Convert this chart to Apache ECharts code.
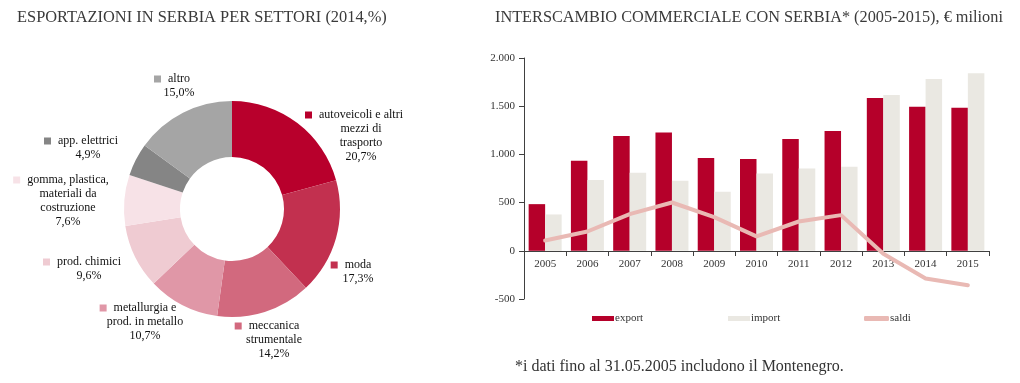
<!DOCTYPE html>
<html>
<head>
<meta charset="utf-8">
<script src="https://cdn.jsdelivr.net/npm/echarts@6/dist/echarts.min.js"></script>
<style>
html,body{margin:0;padding:0;background:#fff;}
#c{width:1020px;height:383px;}
</style>
</head>
<body>
<div id="c"></div>
<script>
// ---- data ----
const sectorNames = ['autoveicoli e altri\nmezzi di\ntrasporto', 'moda', 'meccanica\nstrumentale', 'metallurgia e\nprod. in metallo', 'prod. chimici', 'gomma, plastica,\nmateriali da\ncostruzione', 'app. elettrici', 'altro'];
const sectorShares = [20.7, 17.3, 14.2, 10.7, 9.6, 7.6, 4.9, 15.0];
const years = ['2005','2006','2007','2008','2009','2010','2011','2012','2013','2014','2015'];
const exportVals = [484, 934, 1190, 1228, 962, 952, 1159, 1242, 1585, 1495, 1484];
const importVals = [377, 734, 810, 727, 612, 803, 855, 872, 1616, 1782, 1841];
const saldiVals = [107, 200, 380, 501, 350, 149, 304, 370, -31, -287, -357];
const yTicks = [-500, 0, 500, 1000, 1500, 2000];

// ---- styling / layout ----
const sectorColors = ['#B8002C', '#C2304F', '#D2697E', '#E097A7', '#EFCBD2', '#F7E2E7', '#858585', '#A5A5A5'];
const labelPos = [[361,136],[358,272],[274,340],[145,322],[89,269],[68,201],[88,148],[179,86]];
const SERIF = '"Liberation Serif", "DejaVu Serif", serif';

function fmtThousands(v){
  const s = String(Math.abs(v)).replace(/\B(?=(\d{3})+(?!\d))/g, '.');
  return (v < 0 ? '-' : '') + s;
}
function fmtPct(v){ return v.toFixed(1).replace('.', ','); }

const richLabel = {};
sectorColors.forEach((c, i) => {
  richLabel['sq' + i] = {width: 7, height: 7, backgroundColor: c};
});
richLabel.g = {width: 7};
richLabel.p = {width: 14};

const pieData = sectorNames.map((n, i) => ({
  name: n, value: sectorShares[i],
  itemStyle: {color: sectorColors[i]}
}));

const legendText = {fontFamily: SERIF, fontSize: 11, color: '#333', padding: [0,0,0,-4]};

const chart = echarts.init(document.getElementById('c'), null, {renderer: 'canvas'});
chart.setOption({
  animation: false,
  textStyle: {fontFamily: SERIF},
  title: [
    {text: 'ESPORTAZIONI IN SERBIA PER SETTORI (2014,%)', left: 17, top: 10, padding: 0,
     textStyle: {fontFamily: SERIF, fontSize: 16.4, fontWeight: 'normal', color: '#3a3a3a'}},
    {text: 'INTERSCAMBIO COMMERCIALE CON SERBIA* (2005-2015), € milioni', left: 495, top: 10, padding: 0,
     textStyle: {fontFamily: SERIF, fontSize: 16.3, fontWeight: 'normal', color: '#3a3a3a'}},
    {text: '*i dati fino al 31.05.2005 includono il Montenegro.', left: 515, top: 359, padding: 0,
     textStyle: {fontFamily: SERIF, fontSize: 16, fontWeight: 'normal', color: '#333'}}
  ],
  legend: [
    {data: ['export'], left: 592, top: 313, padding: 0, itemWidth: 22, itemHeight: 5, icon: 'rect',
     textStyle: legendText},
    {data: ['import'], left: 728, top: 313, padding: 0, itemWidth: 22, itemHeight: 5, icon: 'rect',
     textStyle: legendText},
    {data: ['saldi'], left: 864, top: 313, padding: 0, itemWidth: 25, itemHeight: 5, icon: 'roundRect',
     textStyle: legendText}
  ],
  grid: {left: 524, right: 31, top: 58, bottom: 84, containLabel: false},
  xAxis: {
    type: 'category', data: years, position: 'bottom', offset: -48,
    axisLine: {onZero: false, lineStyle: {color: '#404040', width: 1}},
    axisTick: {show: true, length: 5, interval: 0, lineStyle: {color: '#404040'}},
    axisLabel: {fontFamily: SERIF, fontSize: 11, color: '#333', margin: 8, interval: 0}
  },
  yAxis: {
    type: 'value', min: yTicks[0], max: yTicks[yTicks.length - 1], interval: 500,
    axisLine: {show: true, lineStyle: {color: '#404040', width: 1}},
    axisTick: {show: true, length: 5, lineStyle: {color: '#404040'}},
    splitLine: {show: false},
    axisLabel: {fontFamily: SERIF, fontSize: 11, color: '#333', margin: 9, formatter: fmtThousands}
  },
  series: [
    {
      type: 'pie', name: 'settori',
      center: [232, 209], radius: [52, 108],
      startAngle: 90, clockwise: true,
      data: pieData,
      label: {
        show: true, position: 'outside', width: 140, overflow: 'none',
        fontFamily: SERIF, fontSize: 12, color: '#111', lineHeight: 14, align: 'center',
        formatter: (p) => {
          const lines = p.name.split('\n');
          lines[0] = '{sq' + p.dataIndex + '|}{g|}' + lines[0] + '{p|}';
          return lines.join('\n') + '\n' + fmtPct(p.value) + '%';
        },
        rich: richLabel
      },
      labelLine: {show: false},
      labelLayout: (params) => {
        const pos = labelPos[params.dataIndex];
        return {x: pos[0], y: pos[1], align: 'center', verticalAlign: 'middle'};
      },
      emphasis: {disabled: true}
    },
    {
      type: 'bar', name: 'export', data: exportVals,
      barWidth: 16.5, barGap: '0%',
      itemStyle: {color: '#B5002A'}
    },
    {
      type: 'bar', name: 'import', data: importVals,
      barWidth: 16.5, barGap: '0%',
      itemStyle: {color: '#EAE8E2'}
    },
    {
      type: 'line', name: 'saldi', data: saldiVals,
      symbol: 'none', z: 5,
      lineStyle: {color: '#E9B9B4', width: 4, cap: 'round', join: 'round'},
      itemStyle: {color: '#E9B9B4'}
    }
  ]
});
</script>
</body>
</html>
